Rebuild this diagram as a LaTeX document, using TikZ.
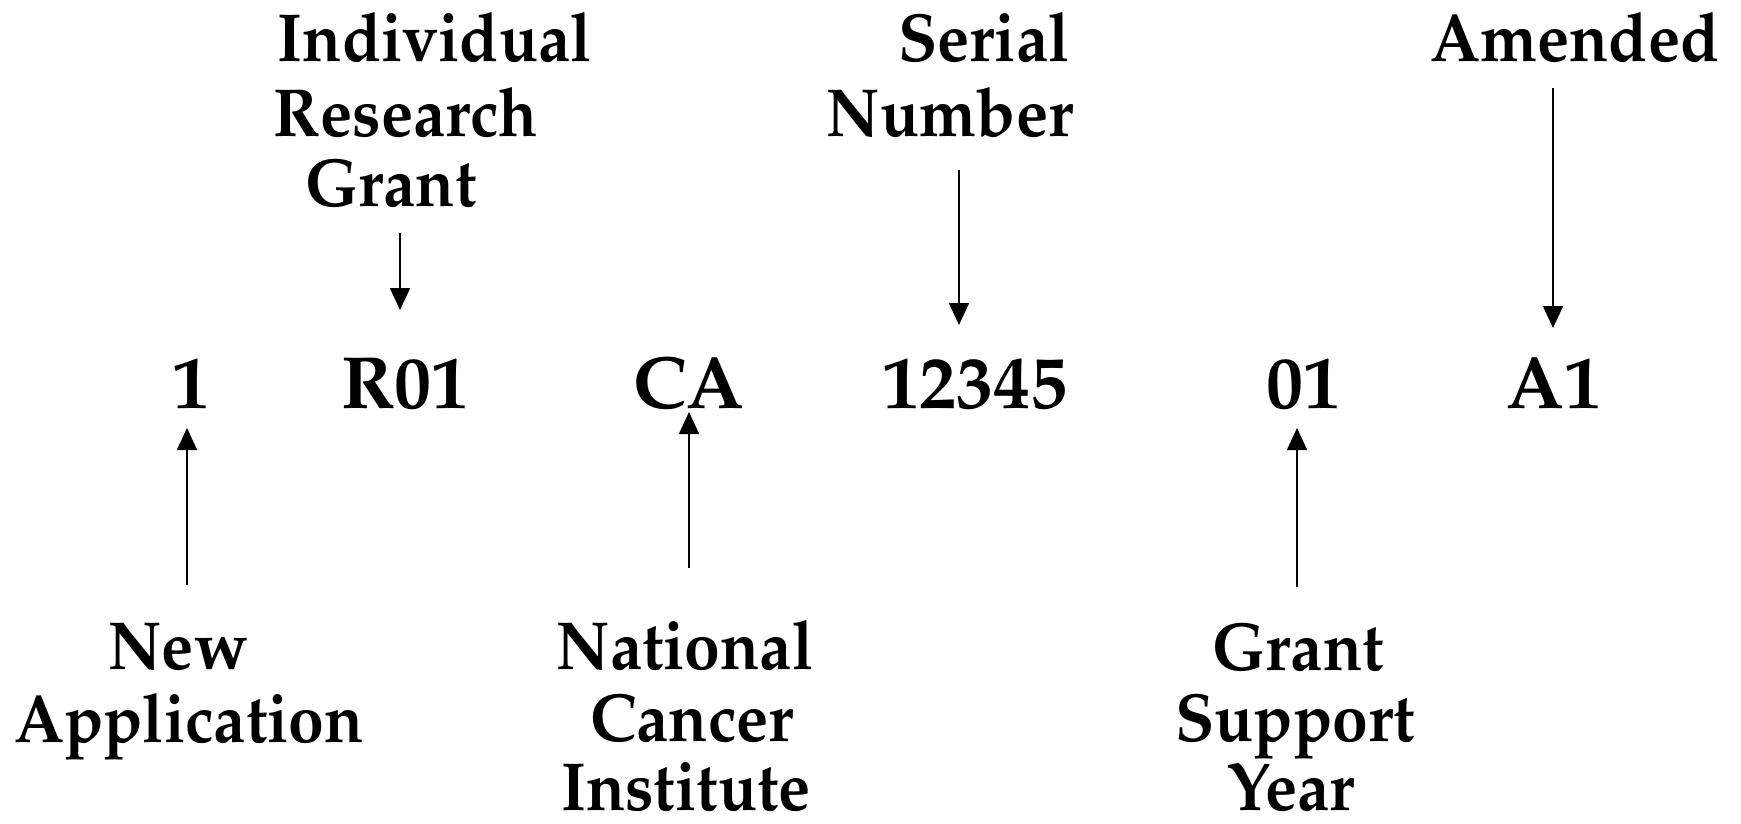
\documentclass[tikz,border=0pt]{standalone}
\usepackage[T1]{fontenc}
\renewcommand{\rmdefault}{ppl}
\usetikzlibrary{arrows.meta}
\tikzset{
  code/.style={font=\fontsize{74}{80}\selectfont\bfseries, inner sep=0pt, anchor=base},
  lab/.style={font=\fontsize{68}{72}\selectfont\bfseries, inner sep=0pt, anchor=base},
  ptr/.style={line width=1.6pt, -{Triangle[length=22pt,width=20pt]}},
}
\newcommand\nar[1]{\scalebox{0.945}[1]{#1}}
\begin{document}
\begin{tikzpicture}[x=1pt,y=-1pt]
\useasboundingbox[fill=white] (0,0) rectangle (1741,824);
% middle row
\node[code] (c1) at (191,408) {1};
\node[code] (c2) at (405,408) {R01};
\node[code] (c3) at (689,408) {CA};
\node[code] (c4) at (975,408) {12345};
\node[code] (c5) at (1303,408) {01};
\node[code] (c6) at (1554,408) {A1};
% top labels
\node[lab] (irg1) at (435,62) {\nar{Individual}};
\node[lab] (irg2) at (406,137) {\nar{Research}};
\node[lab] (irg3) at (391,207) {\nar{Grant}};
\node[lab] (sn1) at (984,62) {\nar{Serial}};
\node[lab] (sn2) at (950,137) {\nar{Number}};
\node[lab] (am1) at (1575,62) {\nar{Amended}};
% bottom labels
\node[lab] (na1) at (178,669) {\nar{New}};
\node[lab] (na2) at (189,742) {\nar{Application}};
\node[lab] (nci1) at (685,669) {\nar{National}};
\node[lab] (nci2) at (692,741) {\nar{Cancer}};
\node[lab] (nci3) at (686,810) {\nar{Institute}};
\node[lab] (gsy1) at (1298,670) {\nar{Grant}};
\node[lab] (gsy2) at (1295,741) {\nar{Support}};
\node[lab] (gsy3) at (1291,810) {\nar{Year}};
% arrow x positions
\coordinate (xR) at (400,0);
\coordinate (xS) at (959,0);
\coordinate (xA) at (1553,0);
\coordinate (x1) at (187,0);
\coordinate (xC) at (689,0);
\coordinate (x0) at (1297,0);
% arrows down
\draw[ptr] ([yshift=-26pt]irg3.base -| xR) -- ([yshift=98pt]c2.base -| xR);
\draw[ptr] ([yshift=-33pt]sn2.base -| xS) -- ([yshift=83pt]c4.base -| xS);
\draw[ptr] ([yshift=-26pt]am1.base -| xA) -- ([yshift=80pt]c6.base -| xA);
% arrows up
\draw[ptr] ([yshift=84pt]na1.base -| x1) -- ([yshift=-20pt]c1.base -| x1);
\draw[ptr] ([yshift=101pt]nci1.base -| xC) -- ([yshift=-4pt]c3.base -| xC);
\draw[ptr] ([yshift=83pt]gsy1.base -| x0) -- ([yshift=-20pt]c5.base -| x0);
\end{tikzpicture}
\end{document}
